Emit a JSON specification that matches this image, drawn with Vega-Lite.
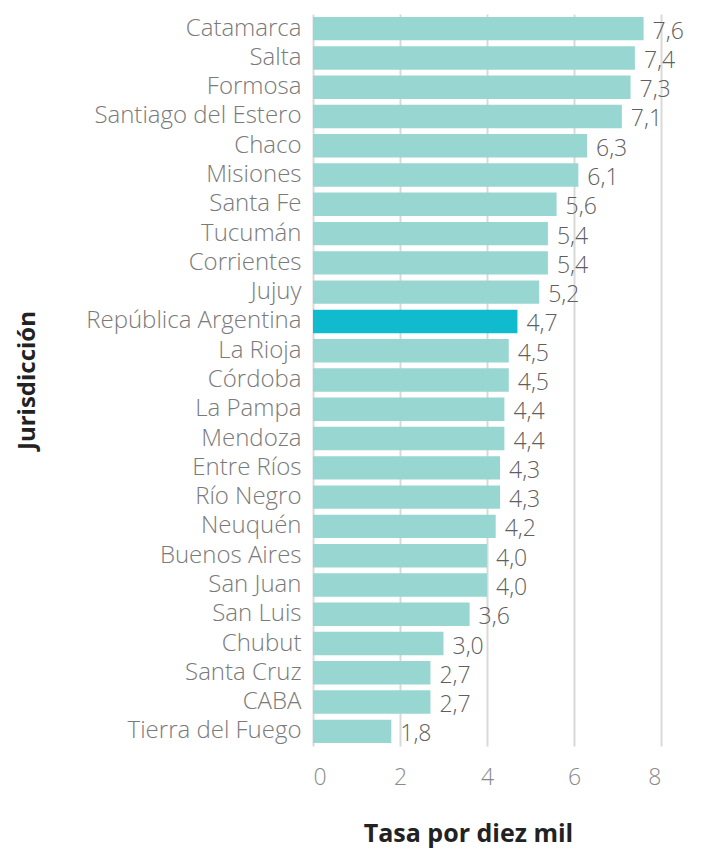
{
  "$schema": "https://vega.github.io/schema/vega-lite/v6.json",
  "width": 348,
  "height": 732,
  "autosize": {"type": "none"},
  "padding": {"left": 313, "top": 14, "right": 46, "bottom": 106},
  "background": "white",
  "config": {
    "view": {"stroke": null},
    "font": "Open Sans",
    "locale": {"number": {"decimal": ",", "thousands": ".", "grouping": [3], "currency": ["$", ""]}}
  },
  "data": {
    "values": [
      {"jurisdiccion": "Catamarca", "tasa": 7.6, "tipo": "prov"},
      {"jurisdiccion": "Salta", "tasa": 7.4, "tipo": "prov"},
      {"jurisdiccion": "Formosa", "tasa": 7.3, "tipo": "prov"},
      {"jurisdiccion": "Santiago del Estero", "tasa": 7.1, "tipo": "prov"},
      {"jurisdiccion": "Chaco", "tasa": 6.3, "tipo": "prov"},
      {"jurisdiccion": "Misiones", "tasa": 6.1, "tipo": "prov"},
      {"jurisdiccion": "Santa Fe", "tasa": 5.6, "tipo": "prov"},
      {"jurisdiccion": "Tucumán", "tasa": 5.4, "tipo": "prov"},
      {"jurisdiccion": "Corrientes", "tasa": 5.4, "tipo": "prov"},
      {"jurisdiccion": "Jujuy", "tasa": 5.2, "tipo": "prov"},
      {"jurisdiccion": "República Argentina", "tasa": 4.7, "tipo": "pais"},
      {"jurisdiccion": "La Rioja", "tasa": 4.5, "tipo": "prov"},
      {"jurisdiccion": "Córdoba", "tasa": 4.5, "tipo": "prov"},
      {"jurisdiccion": "La Pampa", "tasa": 4.4, "tipo": "prov"},
      {"jurisdiccion": "Mendoza", "tasa": 4.4, "tipo": "prov"},
      {"jurisdiccion": "Entre Ríos", "tasa": 4.3, "tipo": "prov"},
      {"jurisdiccion": "Río Negro", "tasa": 4.3, "tipo": "prov"},
      {"jurisdiccion": "Neuquén", "tasa": 4.2, "tipo": "prov"},
      {"jurisdiccion": "Buenos Aires", "tasa": 4.0, "tipo": "prov"},
      {"jurisdiccion": "San Juan", "tasa": 4.0, "tipo": "prov"},
      {"jurisdiccion": "San Luis", "tasa": 3.6, "tipo": "prov"},
      {"jurisdiccion": "Chubut", "tasa": 3.0, "tipo": "prov"},
      {"jurisdiccion": "Santa Cruz", "tasa": 2.7, "tipo": "prov"},
      {"jurisdiccion": "CABA", "tasa": 2.7, "tipo": "prov"},
      {"jurisdiccion": "Tierra del Fuego", "tasa": 1.8, "tipo": "prov"}
    ]
  },
  "encoding": {
    "y": {
      "field": "jurisdiccion",
      "type": "nominal",
      "sort": null,
      "scale": {"paddingInner": 0.2, "paddingOuter": 0.1},
      "axis": {
        "title": "Jurisdicción",
        "titleFontSize": 24,
        "titleFontWeight": "bold",
        "titleColor": "#222222",
        "titlePadding": 74,
        "labelFontSize": 24,
        "labelColor": "#7a7a7a",
        "labelPadding": 12,
        "labelFontWeight": 300,
        "ticks": false,
        "domain": false,
        "labelLimit": 400
      }
    },
    "x": {
      "field": "tasa",
      "type": "quantitative",
      "scale": {"domain": [0, 8], "nice": false},
      "axis": {
        "title": "Tasa por diez mil",
        "titleFontSize": 25,
        "titleFontWeight": "bold",
        "titleColor": "#222222",
        "titlePadding": 32,
        "titleX": 155,
        "values": [0, 2, 4, 6, 8],
        "format": "d",
        "labelFontSize": 23,
        "labelColor": "#8a8a8a",
        "labelFontWeight": 300,
        "labelPadding": 20,
        "ticks": false,
        "domain": false,
        "grid": true,
        "gridColor": "#d9d9d9",
        "gridWidth": 2
      }
    }
  },
  "layer": [
    {
      "mark": {"type": "bar"},
      "encoding": {
        "color": {
          "field": "tipo",
          "type": "nominal",
          "scale": {"domain": ["prov", "pais"], "range": ["#98d6d2", "#10bbce"]},
          "legend": null
        }
      }
    },
    {
      "mark": {"type": "text", "align": "left", "baseline": "middle", "dx": 9, "dy": 3, "fontSize": 23, "color": "#5f5f5f", "fontWeight": 300},
      "encoding": {
        "text": {"field": "tasa", "type": "quantitative", "format": ".1f"}
      }
    }
  ]
}
